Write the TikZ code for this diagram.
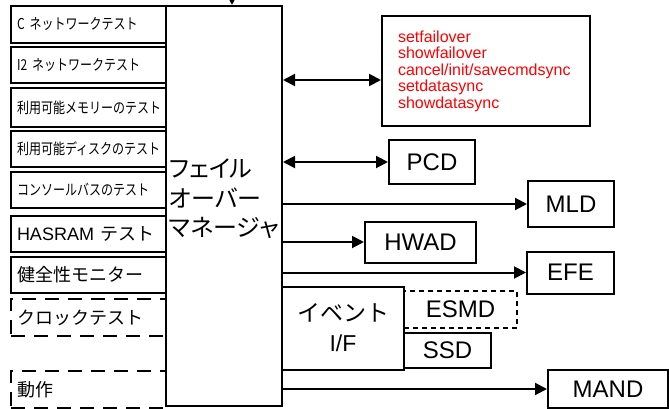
\documentclass[tikz,border=0pt]{standalone}
\usepackage{fontspec}
\setmainfont{Liberation Sans}
\newfontfamily\jp{Noto Sans CJK JP}
\newfontfamily\jpn[FakeStretch=0.8]{Noto Sans CJK JP}
\newfontfamily\jpp[RawFeature=+palt]{Noto Sans CJK JP}
\usetikzlibrary{arrows.meta}

\begin{document}
\begin{tikzpicture}[x=1pt, y=-1pt,
  lb/.style={draw, line width=2pt, minimum width=155pt, minimum height=36pt,
    text width=143pt, inner xsep=6pt, inner ysep=0pt, align=left},
  lbs/.style={lb, font=\jpn\fontsize{15}{17}\selectfont},
  lbl/.style={lb, font=\jp\fontsize{18}{20}\selectfont},
  dsh/.style={dash pattern=on 14pt off 9pt},
  b/.style={draw, line width=2pt, inner sep=0pt, font=\fontsize{24}{28}\selectfont},
  e/.style={-{Triangle[length=12pt, width=12pt]}, line width=2pt},
  ee/.style={{Triangle[length=12pt, width=12pt]}-{Triangle[length=12pt, width=12pt]}, line width=2pt}]

  \useasboundingbox (0,0) rectangle (669,409);
  \clip (0,0) rectangle (669,409);

  % tests on the left
  \node[lbs, minimum height=37pt] (t1) at (88.5,24.5) {C ネットワークテスト};
  \node[lbs] (t2) at (88.5,65) {I2 ネットワークテスト};
  \node[lbs, minimum height=39pt] (t3) at (88.5,107.5) {利用可能メモリーのテスト};
  \node[lbs] (t4) at (88.5,149) {利用可能ディスクのテスト};
  \node[lbs] (t5) at (88.5,190) {コンソールバスのテスト};
  \node[lbl] (t6) at (88.5,234) {{\rmfamily HASRAM} テスト};
  \node[lbl] (t7) at (88.5,275) {健全性モニター};
  \node[lbl, dsh, minimum height=37pt] (t8) at (88.5,317.5) {クロックテスト};
  \node[lbl, dsh, minimum height=37pt] (t9) at (88.5,389.5) {動作};

  % manager
  \node[draw, line width=2pt, minimum width=116pt, minimum height=400pt, inner sep=0pt] (fom) at (224,206) {};
  \node[align=left, inner sep=0pt, font=\jpp\fontsize{24}{29.5}\selectfont] (fomt) at (224,199)
    {フェイル\\オーバー\\マネージャ};

  % right side
  \node[draw, line width=2pt, minimum width=208pt, minimum height=110pt, text width=176pt,
    inner xsep=16pt, align=left, text=red, font=\fontsize{16}{16.5}\selectfont] (cmd) at (486,71)
    {setfailover\\showfailover\\cancel/init/savecmdsync\\setdatasync\\showdatasync};
  \node[b, minimum width=86pt, minimum height=43pt] (pcd) at (432,162) {PCD};
  \node[b, minimum width=86pt, minimum height=46pt] (mld) at (571,204) {MLD};
  \node[b, minimum width=111pt, minimum height=41pt] (hwad) at (420.5,242) {HWAD};
  \node[b, minimum width=87pt, minimum height=42pt] (efe) at (570.5,272.5) {EFE};
  \node[b, minimum width=122pt, minimum height=83pt, align=center,
    font=\fontsize{23}{30}\selectfont] (evt) at (343,328) {{\jp イベント}\\I/F};
  \node[b, line width=1.6pt, dash pattern=on 5pt off 4pt, minimum width=113pt,
    minimum height=37pt] (esmd) at (460.5,309.5) {ESMD};
  \node[b, minimum width=87pt, minimum height=35pt] (ssd) at (447.5,350.5) {SSD};
  \node[b, minimum width=120pt, minimum height=38pt] (mand) at (608,389) {MAND};

  \coordinate (c) at ([yshift=-9pt]cmd.west);
  \coordinate (top) at (232,-8);
  \draw[e] (top) -- (top |- fom.north);
  \draw[ee] (fom.east |- c) -- (c);
  \draw[ee] (fom.east |- pcd) -- (pcd);
  \draw[e] (fom.east |- mld) -- (mld);
  \draw[e] (fom.east |- hwad) -- (hwad);
  \draw[e] (fom.east |- efe) -- (efe);
  \draw[e] (fom.east |- mand) -- (mand);
\end{tikzpicture}
\end{document}
